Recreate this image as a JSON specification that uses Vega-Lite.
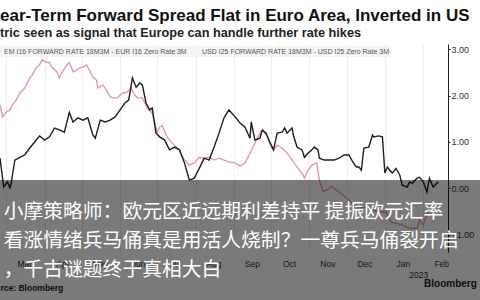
{
  "$schema": "https://vega.github.io/schema/vega-lite/v6.json",
  "width": 448,
  "height": 208,
  "autosize": {"type": "none"},
  "padding": {"left": 0, "top": 44, "right": 32, "bottom": 48},
  "background": "white",
  "config": {"view": {"stroke": null}},
  "title": {
    "text": "ear-Term Forward Spread Flat in Euro Area, Inverted in US",
    "subtitle": "tric seen as signal that Europe can handle further rate hikes",
    "anchor": "start",
    "frame": "group",
    "font": "Liberation Sans",
    "fontSize": 17,
    "fontWeight": "bold",
    "color": "#111111",
    "subtitleFont": "Liberation Sans",
    "subtitleFontSize": 12.7,
    "subtitleFontWeight": "bold",
    "subtitleColor": "#222222",
    "subtitlePadding": 2,
    "offset": 3
  },
  "resolve": {"axis": {"x": "independent"}},
  "layer": [
    {
      "data": {"values": [
        {"date":"2022-02-24","series":"USD","value":1.80},
        {"date":"2022-02-26","series":"USD","value":1.54},
        {"date":"2022-03-01","series":"USD","value":1.64},
        {"date":"2022-03-04","series":"USD","value":1.69},
        {"date":"2022-03-06","series":"USD","value":1.80},
        {"date":"2022-03-09","series":"USD","value":1.90},
        {"date":"2022-03-12","series":"USD","value":2.05},
        {"date":"2022-03-16","series":"USD","value":2.16},
        {"date":"2022-03-20","series":"USD","value":2.38},
        {"date":"2022-03-22","series":"USD","value":2.44},
        {"date":"2022-03-25","series":"USD","value":2.59},
        {"date":"2022-03-28","series":"USD","value":2.66},
        {"date":"2022-03-30","series":"USD","value":2.77},
        {"date":"2022-04-03","series":"USD","value":2.71},
        {"date":"2022-04-05","series":"USD","value":2.71},
        {"date":"2022-04-07","series":"USD","value":2.61},
        {"date":"2022-04-11","series":"USD","value":2.51},
        {"date":"2022-04-13","series":"USD","value":2.38},
        {"date":"2022-04-15","series":"USD","value":2.49},
        {"date":"2022-04-19","series":"USD","value":2.66},
        {"date":"2022-04-21","series":"USD","value":2.71},
        {"date":"2022-04-24","series":"USD","value":2.51},
        {"date":"2022-04-27","series":"USD","value":2.55},
        {"date":"2022-04-29","series":"USD","value":2.59},
        {"date":"2022-05-02","series":"USD","value":2.61},
        {"date":"2022-05-05","series":"USD","value":2.66},
        {"date":"2022-05-08","series":"USD","value":2.51},
        {"date":"2022-05-10","series":"USD","value":2.40},
        {"date":"2022-05-13","series":"USD","value":2.33},
        {"date":"2022-05-14","series":"USD","value":2.16},
        {"date":"2022-05-18","series":"USD","value":2.23},
        {"date":"2022-05-21","series":"USD","value":2.12},
        {"date":"2022-05-24","series":"USD","value":1.97},
        {"date":"2022-05-26","series":"USD","value":1.95},
        {"date":"2022-05-30","series":"USD","value":1.95},
        {"date":"2022-06-01","series":"USD","value":2.01},
        {"date":"2022-06-03","series":"USD","value":2.05},
        {"date":"2022-06-07","series":"USD","value":2.08},
        {"date":"2022-06-10","series":"USD","value":2.16},
        {"date":"2022-06-13","series":"USD","value":2.01},
        {"date":"2022-06-15","series":"USD","value":1.95},
        {"date":"2022-06-19","series":"USD","value":1.95},
        {"date":"2022-06-23","series":"USD","value":1.73},
        {"date":"2022-06-27","series":"USD","value":1.62},
        {"date":"2022-07-01","series":"USD","value":1.21},
        {"date":"2022-07-03","series":"USD","value":1.32},
        {"date":"2022-07-05","series":"USD","value":1.36},
        {"date":"2022-07-09","series":"USD","value":1.11},
        {"date":"2022-07-13","series":"USD","value":0.98},
        {"date":"2022-07-19","series":"USD","value":0.83},
        {"date":"2022-07-23","series":"USD","value":0.61},
        {"date":"2022-07-27","series":"USD","value":0.50},
        {"date":"2022-07-31","series":"USD","value":0.55},
        {"date":"2022-08-04","series":"USD","value":0.67},
        {"date":"2022-08-08","series":"USD","value":0.65},
        {"date":"2022-08-12","series":"USD","value":0.67},
        {"date":"2022-08-16","series":"USD","value":0.61},
        {"date":"2022-08-20","series":"USD","value":0.65},
        {"date":"2022-08-24","series":"USD","value":0.61},
        {"date":"2022-08-28","series":"USD","value":0.57},
        {"date":"2022-09-02","series":"USD","value":0.55},
        {"date":"2022-09-06","series":"USD","value":0.48},
        {"date":"2022-09-10","series":"USD","value":0.55},
        {"date":"2022-09-14","series":"USD","value":0.76},
        {"date":"2022-09-18","series":"USD","value":0.98},
        {"date":"2022-09-22","series":"USD","value":1.19},
        {"date":"2022-09-24","series":"USD","value":1.26},
        {"date":"2022-09-28","series":"USD","value":1.11},
        {"date":"2022-10-01","series":"USD","value":0.89},
        {"date":"2022-10-03","series":"USD","value":0.83},
        {"date":"2022-10-06","series":"USD","value":0.93},
        {"date":"2022-10-10","series":"USD","value":0.87},
        {"date":"2022-10-14","series":"USD","value":0.76},
        {"date":"2022-10-18","series":"USD","value":0.61},
        {"date":"2022-10-22","series":"USD","value":0.46},
        {"date":"2022-10-26","series":"USD","value":0.33},
        {"date":"2022-10-28","series":"USD","value":0.22},
        {"date":"2022-10-31","series":"USD","value":0.39},
        {"date":"2022-11-03","series":"USD","value":0.50},
        {"date":"2022-11-07","series":"USD","value":0.55},
        {"date":"2022-11-09","series":"USD","value":0.18},
        {"date":"2022-11-12","series":"USD","value":-0.06},
        {"date":"2022-11-15","series":"USD","value":-0.04},
        {"date":"2022-11-19","series":"USD","value":0.05},
        {"date":"2022-11-23","series":"USD","value":-0.04},
        {"date":"2022-11-28","series":"USD","value":-0.14},
        {"date":"2022-12-03","series":"USD","value":-0.25},
        {"date":"2022-12-07","series":"USD","value":-0.36},
        {"date":"2022-12-11","series":"USD","value":-0.40},
        {"date":"2022-12-19","series":"USD","value":-0.42},
        {"date":"2022-12-27","series":"USD","value":-0.51},
        {"date":"2023-01-02","series":"USD","value":-0.51},
        {"date":"2023-01-06","series":"USD","value":-0.73},
        {"date":"2023-01-13","series":"USD","value":-0.77},
        {"date":"2023-01-21","series":"USD","value":-0.86},
        {"date":"2023-01-27","series":"USD","value":-0.86},
        {"date":"2023-01-29","series":"USD","value":-0.68},
        {"date":"2023-02-01","series":"USD","value":-0.79},
        {"date":"2023-02-04","series":"USD","value":-0.55},
        {"date":"2023-02-09","series":"USD","value":-0.47},
        {"date":"2023-02-14","series":"USD","value":-0.45},
        {"date":"2022-02-24","series":"EUR","value":0.65},
        {"date":"2022-02-27","series":"EUR","value":0.03},
        {"date":"2022-03-02","series":"EUR","value":0.14},
        {"date":"2022-03-04","series":"EUR","value":0.01},
        {"date":"2022-03-05","series":"EUR","value":0.11},
        {"date":"2022-03-08","series":"EUR","value":0.61},
        {"date":"2022-03-12","series":"EUR","value":0.67},
        {"date":"2022-03-16","series":"EUR","value":0.72},
        {"date":"2022-03-20","series":"EUR","value":0.87},
        {"date":"2022-03-24","series":"EUR","value":1.00},
        {"date":"2022-03-28","series":"EUR","value":1.13},
        {"date":"2022-04-01","series":"EUR","value":1.04},
        {"date":"2022-04-05","series":"EUR","value":1.11},
        {"date":"2022-04-09","series":"EUR","value":1.30},
        {"date":"2022-04-13","series":"EUR","value":1.26},
        {"date":"2022-04-17","series":"EUR","value":1.21},
        {"date":"2022-04-21","series":"EUR","value":1.64},
        {"date":"2022-04-24","series":"EUR","value":1.43},
        {"date":"2022-04-28","series":"EUR","value":1.52},
        {"date":"2022-05-02","series":"EUR","value":1.47},
        {"date":"2022-05-06","series":"EUR","value":1.52},
        {"date":"2022-05-10","series":"EUR","value":1.15},
        {"date":"2022-05-12","series":"EUR","value":1.08},
        {"date":"2022-05-16","series":"EUR","value":1.47},
        {"date":"2022-05-20","series":"EUR","value":1.43},
        {"date":"2022-05-24","series":"EUR","value":1.47},
        {"date":"2022-05-28","series":"EUR","value":1.54},
        {"date":"2022-06-01","series":"EUR","value":1.69},
        {"date":"2022-06-05","series":"EUR","value":1.84},
        {"date":"2022-06-08","series":"EUR","value":1.90},
        {"date":"2022-06-11","series":"EUR","value":2.38},
        {"date":"2022-06-14","series":"EUR","value":2.18},
        {"date":"2022-06-17","series":"EUR","value":2.27},
        {"date":"2022-06-19","series":"EUR","value":2.23},
        {"date":"2022-06-22","series":"EUR","value":1.84},
        {"date":"2022-06-25","series":"EUR","value":1.69},
        {"date":"2022-06-27","series":"EUR","value":1.73},
        {"date":"2022-06-30","series":"EUR","value":1.19},
        {"date":"2022-07-03","series":"EUR","value":1.11},
        {"date":"2022-07-07","series":"EUR","value":1.04},
        {"date":"2022-07-11","series":"EUR","value":0.83},
        {"date":"2022-07-15","series":"EUR","value":0.89},
        {"date":"2022-07-19","series":"EUR","value":0.83},
        {"date":"2022-07-23","series":"EUR","value":0.55},
        {"date":"2022-07-27","series":"EUR","value":0.18},
        {"date":"2022-07-31","series":"EUR","value":0.22},
        {"date":"2022-08-04","series":"EUR","value":0.43},
        {"date":"2022-08-08","series":"EUR","value":0.65},
        {"date":"2022-08-12","series":"EUR","value":0.61},
        {"date":"2022-08-16","series":"EUR","value":0.89},
        {"date":"2022-08-20","series":"EUR","value":1.19},
        {"date":"2022-08-24","series":"EUR","value":1.52},
        {"date":"2022-08-28","series":"EUR","value":1.69},
        {"date":"2022-09-02","series":"EUR","value":1.54},
        {"date":"2022-09-06","series":"EUR","value":1.41},
        {"date":"2022-09-10","series":"EUR","value":1.32},
        {"date":"2022-09-14","series":"EUR","value":1.08},
        {"date":"2022-09-15","series":"EUR","value":1.43},
        {"date":"2022-09-18","series":"EUR","value":1.04},
        {"date":"2022-09-22","series":"EUR","value":1.08},
        {"date":"2022-09-24","series":"EUR","value":1.26},
        {"date":"2022-09-27","series":"EUR","value":1.19},
        {"date":"2022-09-30","series":"EUR","value":1.00},
        {"date":"2022-10-03","series":"EUR","value":0.83},
        {"date":"2022-10-06","series":"EUR","value":1.19},
        {"date":"2022-10-10","series":"EUR","value":1.21},
        {"date":"2022-10-12","series":"EUR","value":1.30},
        {"date":"2022-10-14","series":"EUR","value":1.19},
        {"date":"2022-10-18","series":"EUR","value":1.30},
        {"date":"2022-10-19","series":"EUR","value":1.15},
        {"date":"2022-10-22","series":"EUR","value":0.89},
        {"date":"2022-10-26","series":"EUR","value":0.83},
        {"date":"2022-10-28","series":"EUR","value":0.67},
        {"date":"2022-10-31","series":"EUR","value":0.76},
        {"date":"2022-11-03","series":"EUR","value":0.83},
        {"date":"2022-11-05","series":"EUR","value":0.89},
        {"date":"2022-11-08","series":"EUR","value":0.83},
        {"date":"2022-11-09","series":"EUR","value":0.65},
        {"date":"2022-11-13","series":"EUR","value":0.61},
        {"date":"2022-11-17","series":"EUR","value":0.61},
        {"date":"2022-11-21","series":"EUR","value":0.61},
        {"date":"2022-11-25","series":"EUR","value":0.65},
        {"date":"2022-11-29","series":"EUR","value":0.72},
        {"date":"2022-12-03","series":"EUR","value":0.72},
        {"date":"2022-12-06","series":"EUR","value":0.57},
        {"date":"2022-12-09","series":"EUR","value":0.46},
        {"date":"2022-12-11","series":"EUR","value":0.46},
        {"date":"2022-12-13","series":"EUR","value":0.39},
        {"date":"2022-12-15","series":"EUR","value":0.87},
        {"date":"2022-12-19","series":"EUR","value":0.89},
        {"date":"2022-12-22","series":"EUR","value":1.15},
        {"date":"2022-12-23","series":"EUR","value":1.11},
        {"date":"2022-12-27","series":"EUR","value":1.13},
        {"date":"2022-12-30","series":"EUR","value":1.11},
        {"date":"2023-01-01","series":"EUR","value":0.33},
        {"date":"2023-01-03","series":"EUR","value":0.46},
        {"date":"2023-01-05","series":"EUR","value":0.39},
        {"date":"2023-01-07","series":"EUR","value":0.33},
        {"date":"2023-01-10","series":"EUR","value":0.43},
        {"date":"2023-01-13","series":"EUR","value":0.29},
        {"date":"2023-01-15","series":"EUR","value":0.07},
        {"date":"2023-01-19","series":"EUR","value":0.03},
        {"date":"2023-01-21","series":"EUR","value":0.14},
        {"date":"2023-01-23","series":"EUR","value":0.11},
        {"date":"2023-01-27","series":"EUR","value":0.22},
        {"date":"2023-01-29","series":"EUR","value":0.24},
        {"date":"2023-02-01","series":"EUR","value":0.14},
        {"date":"2023-02-04","series":"EUR","value":-0.08},
        {"date":"2023-02-06","series":"EUR","value":0.22},
        {"date":"2023-02-09","series":"EUR","value":0.03},
        {"date":"2023-02-12","series":"EUR","value":0.11},
        {"date":"2023-02-13","series":"EUR","value":0.14}
      ]},
      "mark": {"type": "line", "strokeWidth": 1.4},
      "encoding": {
        "x": {
          "field": "date", "type": "temporal",
          "scale": {"domain": [{"year": 2022, "month": 2, "date": 24}, {"year": 2023, "month": 2, "date": 21}]},
          "axis": {
            "orient": "bottom", "format": "%b",
            "tickCount": {"interval": "month", "step": 1},
            "labelOffset": 18, "labelAlign": "center",
            "ticks": false, "domain": false,
            "grid": true, "gridColor": "#e8e8e8", "gridWidth": 0.8,
            "labelFont": "Liberation Sans", "labelFontSize": 8.5, "labelColor": "#333333",
            "labelPadding": 7, "labelOverlap": false, "labelBound": false, "labelFlush": false,
            "title": null
          }
        },
        "y": {
          "field": "value", "type": "quantitative",
          "scale": {"domain": [-1.37, 3.11], "nice": false, "zero": false},
          "axis": {
            "orient": "right", "values": [-1, -0.5, 0, 0.5, 1, 1.5, 2, 2.5, 3],
            "format": ".2f", "grid": false,
            "domain": true, "domainColor": "#222222", "domainWidth": 1,
            "ticks": true, "tickSize": 2, "tickColor": "#222222",
            "labelPadding": 1, "labelFont": "Liberation Sans", "labelFontSize": 9, "labelColor": "#333333",
            "title": null
          }
        },
        "color": {
          "field": "series", "type": "nominal",
          "scale": {"domain": ["EUR", "USD"], "range": ["#1e1e1e", "#e59aa3"]},
          "legend": {
            "orient": "none", "legendX": -8, "legendY": 2,
            "direction": "horizontal", "title": null, "gridAlign": "none",
            "symbolType": "square", "symbolSize": 18, "symbolStrokeWidth": 0,
            "labelFont": "Liberation Sans", "labelFontSize": 7, "labelColor": "#555555",
            "labelLimit": 400, "labelOffset": 3, "columnPadding": 5,
            "fillColor": "#f4f4f4", "padding": 2,
            "labelExpr": "datum.value == 'EUR' ? 'EM I16 FORWARD RATE 18M3M - EUR I16 Zero Rate 3M' : 'USD I25 FORWARD RATE 18M3M - USD I25 Zero Rate 3M'"
          }
        }
      }
    },
    {
      "data": {"values": [{}]},
      "mark": {"type": "text", "text": "Bloomberg", "align": "center", "baseline": "middle", "font": "Liberation Sans", "fontSize": 10, "fontWeight": "bold", "color": "#222222", "clip": false},
      "encoding": {
        "x": {
          "datum": {"year": 2023, "month": 2, "date": 23}, "type": "temporal",
          "axis": {
            "orient": "bottom",
            "values": [{"year": 2023, "month": 1, "date": 28}],
            "format": "%Y", "ticks": false, "domain": false, "grid": false,
            "labelFont": "Liberation Sans", "labelFontSize": 8.5, "labelColor": "#333333",
            "labelPadding": 18,
            "title": "rce: Bloomberg", "titleX": 0, "titleY": 35, "titleAlign": "left", "titleBaseline": "middle",
            "titleFont": "Liberation Sans", "titleFontSize": 8.5, "titleFontWeight": "bold", "titleColor": "#222222"
          }
        },
        "y": {"datum": -2.06, "type": "quantitative"}
      }
    },
    {
      "data": {"values": [{}]},
      "mark": {"type": "rect", "color": "#000000", "opacity": 0.52, "clip": false},
      "encoding": {
        "x": {"datum": {"year": 2022, "month": 2, "date": 15}, "type": "temporal", "axis": null},
        "x2": {"datum": {"year": 2023, "month": 3, "date": 30}},
        "y": {"datum": 0.18, "type": "quantitative"},
        "y2": {"datum": -2.5}
      }
    },
    {
      "data": {"values": [{}]},
      "mark": {
        "type": "text",
        "text": ["小摩策略师：欧元区近远期利差持平  提振欧元汇率", "看涨情绪兵马俑真是用活人烧制？一尊兵马俑裂开启", "，千古谜题终于真相大白"],
        "align": "left", "baseline": "middle", "lineHeight": 29,
        "font": "Noto Sans CJK SC", "fontSize": 19.8, "color": "#ffffff", "clip": false
      },
      "encoding": {
        "x": {"datum": {"year": 2022, "month": 2, "date": 27}, "type": "temporal", "axis": null},
        "y": {"datum": -0.51, "type": "quantitative"}
      }
    }
  ]
}
